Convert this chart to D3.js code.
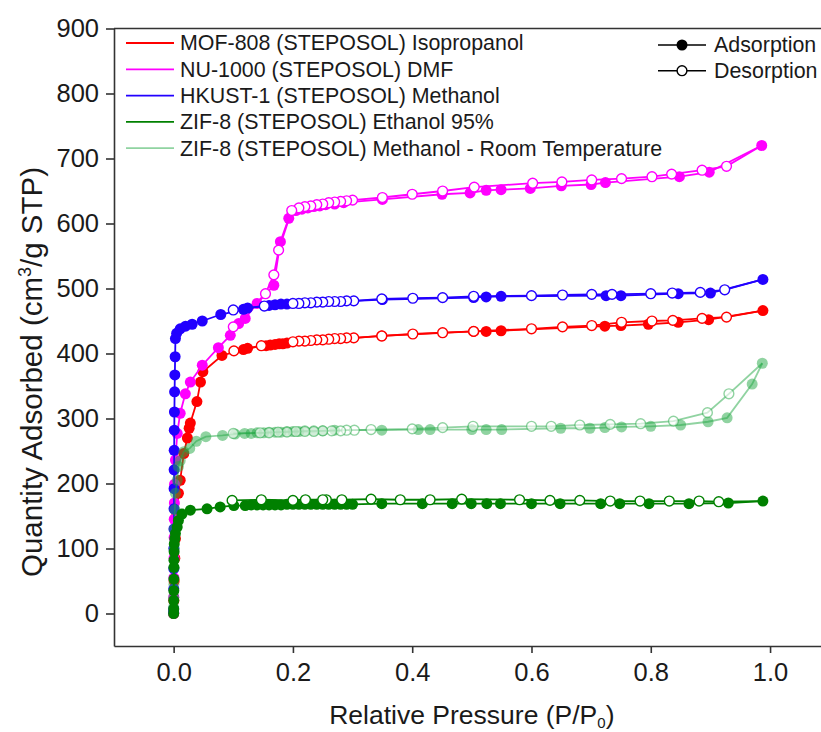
<!DOCTYPE html>
<html>
<head>
<meta charset="utf-8">
<script src="https://cdn.jsdelivr.net/npm/d3@7/dist/d3.min.js"></script>
<style>
  html, body { margin: 0; padding: 0; background: #fff; }
  svg { display: block; }
  text { font-family: "Liberation Sans", Arial, sans-serif; fill: #1a1a1a; }
</style>
</head>
<body>
<svg id="chart" width="821" height="732"></svg>
<script>
// Nitrogen isotherms, [relative pressure, quantity adsorbed] pairs
const mof808Ads = [[0,0],[0.0003,20],[0.0008,50],[0.002,85],[0.003,115],[0.005,150],[0.008,185],[0.011,205],[0.017,246],[0.023,270],[0.026,285],[0.028,293],[0.039,326],[0.045,356],[0.049,372],[0.081,397],[0.117,406],[0.124,408],[0.155,412],[0.162,413],[0.17,414],[0.177,415],[0.183,415],[0.19,416],[0.349,427],[0.503,434],[0.524,434],[0.549,435],[0.723,442],[0.75,443],[0.796,445],[0.846,448],[0.897,452],[0.988,466]];
const mof808Des = [[0.927,456],[0.886,454],[0.837,451],[0.802,450],[0.751,448],[0.701,443],[0.652,441],[0.6,438],[0.503,434],[0.451,432],[0.401,430],[0.349,427],[0.302,424],[0.29,424],[0.28,423],[0.27,423],[0.26,422],[0.25,421],[0.24,421],[0.23,420],[0.22,419],[0.21,419],[0.2,418],[0.147,412],[0.101,404]];

const nu1000Ads = [[0,0],[0.0002,25],[0.0004,55],[0.0006,85],[0.0008,117],[0.001,145],[0.0012,170],[0.0015,199],[0.003,236],[0.006,277],[0.011,308],[0.0196,338],[0.028,356],[0.048,382],[0.075,409],[0.095,428],[0.109,446],[0.12,454],[0.14,477],[0.168,505],[0.179,572],[0.193,608],[0.205,620],[0.215,622],[0.225,624],[0.235,626],[0.245,627],[0.255,629],[0.27,630],[0.285,632],[0.35,637],[0.45,645],[0.497,647],[0.524,651],[0.549,652],[0.598,654],[0.65,658],[0.7,660],[0.724,663],[0.848,672],[0.898,679],[0.986,720]];
const nu1000Des = [[0.927,688],[0.886,682],[0.835,676],[0.802,672],[0.751,669],[0.701,667],[0.651,664],[0.602,662],[0.504,656],[0.451,650],[0.4,645],[0.35,640],[0.3,636],[0.29,635],[0.28,634],[0.27,633],[0.26,632],[0.25,630],[0.24,629],[0.23,627],[0.22,626],[0.21,624],[0.198,620],[0.176,559],[0.168,521],[0.154,492],[0.1,441]];

const hkustAds = [[0,2],[0.0001,7],[0.0002,38],[0.0003,69],[0.0004,100],[0.0005,130],[0.0006,161],[0.0007,192],[0.0008,221],[0.0009,251],[0.0011,282],[0.0013,310],[0.0016,341],[0.002,367],[0.0025,395],[0.003,423],[0.005,431],[0.011,438],[0.02,442],[0.031,445],[0.048,450],[0.079,460],[0.117,468],[0.124,470],[0.16,474],[0.17,475],[0.18,476],[0.19,476],[0.35,483],[0.503,486],[0.524,487],[0.549,488],[0.725,489],[0.75,489],[0.846,492],[0.9,493],[0.988,514]];
const hkustDes = [[0.924,498],[0.883,494],[0.836,493],[0.8,492],[0.735,491],[0.701,491],[0.652,490],[0.6,489],[0.503,488],[0.451,486],[0.401,485],[0.349,484],[0.302,481],[0.29,481],[0.28,480],[0.27,480],[0.26,480],[0.25,479],[0.24,479],[0.23,478],[0.22,478],[0.21,477],[0.2,477],[0.152,473],[0.1,467]];

const zif8EtohAds = [[0,0],[0.0001,7],[0.0002,20],[0.0003,35],[0.0004,53],[0.0005,71],[0.0006,82],[0.0008,95],[0.001,107],[0.002,115],[0.003,123],[0.006,133],[0.008,143],[0.014,153],[0.028,159],[0.056,161],[0.078,164],[0.101,166],[0.12,166],[0.13,167],[0.14,167],[0.15,167],[0.16,167],[0.17,167],[0.18,167],[0.19,168],[0.2,168],[0.21,168],[0.22,168],[0.23,168],[0.24,168],[0.25,168],[0.26,168],[0.27,168],[0.28,168],[0.29,168],[0.3,168],[0.349,169],[0.417,169],[0.467,169],[0.499,169],[0.525,169],[0.548,169],[0.6,169],[0.648,169],[0.716,169],[0.748,169],[0.797,169],[0.864,169],[0.93,170],[0.988,173]];
const zif8EtohDes = [[0.914,172],[0.881,173],[0.831,173],[0.782,173],[0.732,173],[0.681,174],[0.631,174],[0.58,175],[0.483,176],[0.43,175],[0.38,175],[0.331,176],[0.282,175],[0.256,175],[0.25,175],[0.221,175],[0.2,174],[0.147,175],[0.098,174]];

const zif8MeohAds = [[0,0],[0.0001,10],[0.0002,25],[0.0004,45],[0.0006,70],[0.0008,100],[0.001,130],[0.002,160],[0.003,185],[0.006,205],[0.008,226],[0.011,235],[0.017,249],[0.027,254],[0.038,265],[0.054,272],[0.082,274],[0.103,276],[0.119,277],[0.13,277],[0.14,278],[0.151,278],[0.16,279],[0.17,279],[0.18,279],[0.19,280],[0.2,280],[0.21,280],[0.22,281],[0.235,281],[0.25,281],[0.27,282],[0.349,282],[0.41,283],[0.43,283],[0.5,283],[0.524,283],[0.55,283],[0.649,285],[0.698,285],[0.723,286],[0.751,287],[0.8,288],[0.85,290],[0.896,295],[0.928,301],[0.97,353],[0.987,385]];
const zif8MeohDes = [[0.931,338],[0.895,309],[0.838,296],[0.783,292],[0.732,291],[0.681,290],[0.633,288],[0.6,288],[0.502,288],[0.451,286],[0.4,284],[0.331,283],[0.303,282],[0.29,282],[0.28,281],[0.265,281],[0.25,281],[0.235,280],[0.22,280],[0.205,280],[0.19,279],[0.175,279],[0.16,278],[0.145,278],[0.1,277]];

const seriesNames = [
  "MOF-808 (STEPOSOL) Isopropanol",
  "NU-1000 (STEPOSOL) DMF",
  "HKUST-1 (STEPOSOL) Methanol",
  "ZIF-8 (STEPOSOL) Ethanol 95%",
  "ZIF-8 (STEPOSOL) Methanol - Room Temperature"
];
const seriesColors = ["#ff0000", "#ff00ff", "#2200ff", "#008000", "#22a844"];
const seriesOpacity = [1, 1, 1, 1, 0.5];
const adsorptionSets = [mof808Ads, nu1000Ads, hkustAds, zif8EtohAds, zif8MeohAds];
const desorptionSets = [mof808Des, nu1000Des, hkustDes, zif8EtohDes, zif8MeohDes];
const drawOrder = [0, 1, 2, 4, 3];

const xMajorTicks = [0.0, 0.2, 0.4, 0.6, 0.8, 1.0];
const xMinorTicks = [-0.1, 0.1, 0.3, 0.5, 0.7, 0.9];
const yMajorTicks = [0, 100, 200, 300, 400, 500, 600, 700, 800, 900];
const yMinorTicks = [-50, 50, 150, 250, 350, 450, 550, 650, 750, 850];

const svg = d3.select("#chart");
const plot = { left: 114, top: 28.5, right: 829.7, bottom: 646 };

const x = d3.scaleLinear().domain([-0.1, 1.1]).range([plot.left, plot.right]);
const y = d3.scaleLinear().domain([-50, 900]).range([plot.bottom, plot.top]);

const axisColor = "#333";

// top frame line
svg.append("line")
  .attr("x1", plot.left).attr("x2", plot.right)
  .attr("y1", plot.top).attr("y2", plot.top)
  .attr("stroke", axisColor).attr("stroke-width", 1.6);

// x axis
const gx = svg.append("g").attr("transform", `translate(0,${plot.bottom})`);
gx.call(d3.axisBottom(x).tickValues(xMinorTicks).tickSize(4).tickFormat(""));
gx.call(d3.axisBottom(x).tickValues(xMajorTicks).tickSize(7).tickSizeOuter(0).tickPadding(10).tickFormat(d3.format(".1f")));
gx.selectAll("path.domain").attr("stroke", axisColor).attr("stroke-width", 1.6);
gx.selectAll(".tick line").attr("stroke", axisColor).attr("stroke-width", 1.6);
gx.selectAll(".tick text").attr("font-size", 25.5).attr("fill", "#1a1a1a")
  .attr("font-family", "'Liberation Sans', Arial, sans-serif");

// y axis
const gy = svg.append("g").attr("transform", `translate(${plot.left},0)`);
gy.call(d3.axisLeft(y).tickValues(yMinorTicks).tickSize(4).tickFormat(""));
gy.call(d3.axisLeft(y).tickValues(yMajorTicks).tickSize(8).tickSizeOuter(0).tickPadding(7).tickFormat(d3.format("d")));
gy.selectAll("path.domain").attr("stroke", axisColor).attr("stroke-width", 1.6);
gy.selectAll(".tick line").attr("stroke", axisColor).attr("stroke-width", 1.6);
gy.selectAll(".tick text").attr("font-size", 25.5).attr("fill", "#1a1a1a")
  .attr("font-family", "'Liberation Sans', Arial, sans-serif");

// axis titles
const xTitle = svg.append("text")
  .attr("x", (plot.left + plot.right) / 2).attr("y", 724)
  .attr("text-anchor", "middle").attr("font-size", 26.5);
xTitle.append("tspan").text("Relative Pressure (P/P");
xTitle.append("tspan").attr("font-size", 15).attr("dy", 4).text("0");
xTitle.append("tspan").attr("dy", -4).text(")");

const yTitle = svg.append("text")
  .attr("transform", `translate(42,372) rotate(-90)`)
  .attr("text-anchor", "middle").attr("font-size", 29.5);
yTitle.append("tspan").text("Quantity Adsorbed (cm");
yTitle.append("tspan").attr("font-size", 18).attr("dy", -11).text("3");
yTitle.append("tspan").attr("dy", 11).text("/g STP)");

// isotherms
svg.append("clipPath").attr("id", "plotClip")
  .append("rect").attr("x", plot.left).attr("y", plot.top)
  .attr("width", plot.right - plot.left).attr("height", plot.bottom - plot.top);

const line = d3.line().x(d => x(d[0])).y(d => y(d[1]));
const plotArea = svg.append("g").attr("clip-path", "url(#plotClip)");
const r = 5.5;

drawOrder.forEach(i => {
  const col = seriesColors[i];
  const op = seriesOpacity[i];
  const g = plotArea.append("g");
  const ads = adsorptionSets[i];
  const des = desorptionSets[i];
  const desPath = [ads[ads.length - 1]].concat(des);

  g.append("path").datum(ads).attr("d", line)
    .attr("fill", "none").attr("stroke", col).attr("stroke-width", 1.8).attr("stroke-opacity", op);
  g.append("path").datum(desPath).attr("d", line)
    .attr("fill", "none").attr("stroke", col).attr("stroke-width", 1.8).attr("stroke-opacity", op);

  g.selectAll("circle.ads").data(ads).join("circle")
    .attr("class", "ads")
    .attr("cx", d => x(d[0])).attr("cy", d => y(d[1])).attr("r", r)
    .attr("fill", col).attr("fill-opacity", op).attr("stroke", "none");

  g.selectAll("circle.des").data(des).join("circle")
    .attr("class", "des")
    .attr("cx", d => x(d[0])).attr("cy", d => y(d[1])).attr("r", r - 0.6)
    .attr("fill", "#fff").attr("fill-opacity", op < 1 ? 0.6 : 1)
    .attr("stroke", col).attr("stroke-opacity", op).attr("stroke-width", 1.4);
});

// series legend
const legend = svg.append("g");
seriesNames.forEach((name, i) => {
  const ly = 43 + i * 26.3;
  legend.append("line")
    .attr("x1", 126).attr("x2", 174).attr("y1", ly).attr("y2", ly)
    .attr("stroke", seriesColors[i]).attr("stroke-opacity", seriesOpacity[i]).attr("stroke-width", 1.8);
  legend.append("text")
    .attr("x", 180).attr("y", ly).attr("dy", "0.35em")
    .attr("font-size", 21.4).text(name);
});

// branch legend
const branches = [["Adsorption", true], ["Desorption", false]];
branches.forEach(([label, filled], i) => {
  const ly = 45 + i * 25.7;
  legend.append("line")
    .attr("x1", 658).attr("x2", 706).attr("y1", ly).attr("y2", ly)
    .attr("stroke", "#000").attr("stroke-width", 1.6);
  legend.append("circle")
    .attr("cx", 682).attr("cy", ly).attr("r", filled ? 5.5 : 4.9)
    .attr("fill", filled ? "#000" : "#fff")
    .attr("stroke", filled ? "none" : "#000").attr("stroke-width", 1.4);
  legend.append("text")
    .attr("x", 714).attr("y", ly).attr("dy", "0.35em")
    .attr("font-size", 21.4).text(label);
});
</script>
</body>
</html>
